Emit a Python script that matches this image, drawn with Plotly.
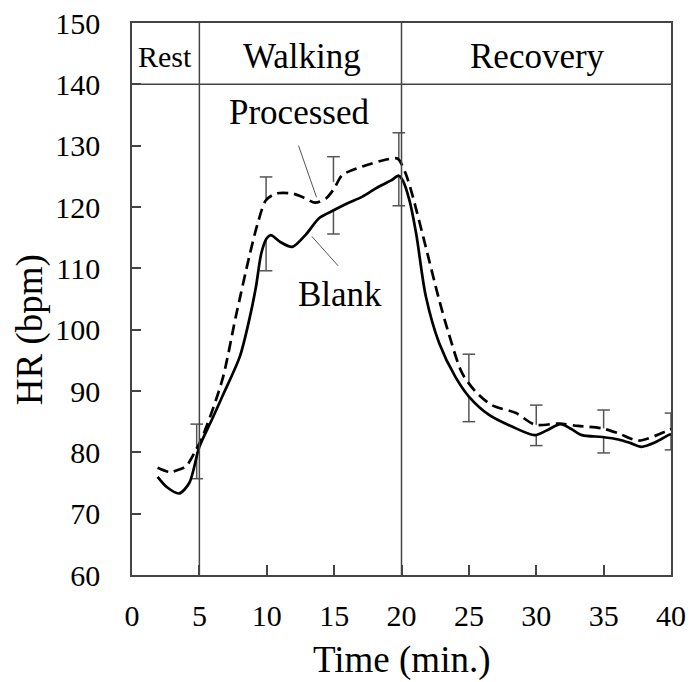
import plotly.graph_objects as go

# Heart-rate time courses (min, bpm)
blank_t = [1.9, 2.6, 3.5, 4.25, 5.0, 5.9, 6.7, 8.0, 8.7, 9.2, 9.6, 10.0, 10.3, 11.0, 11.9, 12.9,
           13.9, 15.0, 16.0, 17.1, 18.3, 19.2, 19.8, 20.1, 20.6, 21.1, 21.8, 22.8, 24.0, 25.0,
           26.5, 28.2, 29.9, 30.8, 31.8, 32.6, 33.4, 34.9, 36.1, 37.0, 37.8, 38.8, 39.8, 40.0]
blank_hr = [76.0, 74.3, 73.3, 75.0, 80.9, 85.2, 89.1, 95.6, 101.6, 107.0, 112.5, 114.9, 115.4, 114.3,
            113.5, 115.5, 118.2, 119.5, 120.6, 121.7, 123.3, 124.3, 125.1, 124.3, 121.0, 115.5,
            105.5, 97.8, 92.3, 89.1, 86.1, 84.2, 82.8, 83.6, 84.6, 83.8, 82.8, 82.5, 82.1, 81.5,
            80.9, 81.6, 82.8, 83.0]

processed_t = [1.9, 2.8, 3.5, 4.0, 4.6, 5.24, 6.7, 7.7, 8.7, 9.3, 9.94, 10.7, 11.9, 12.8, 13.6, 14.4,
               15.0, 15.6, 17.1, 18.8, 19.7, 20.3, 20.8, 21.8, 22.8, 23.5, 24.5, 25.5, 26.7, 28.5,
               29.9, 31.7, 33.1, 34.9, 36.1, 37.6, 39.8, 40.0]
processed_hr = [77.5, 76.8, 77.2, 77.7, 79.8, 82.6, 91.8, 102.1, 111.9, 117.1, 121.1, 122.2, 122.2,
                121.5, 120.7, 121.4, 123.0, 125.2, 126.6, 127.7, 127.9, 125.5, 122.0, 113.5, 104.8,
                99.4, 92.9, 89.9, 87.7, 86.4, 84.5, 84.7, 84.3, 83.9, 83.1, 81.9, 83.6, 83.8]

# Means and standard deviations at the sampling points
bar_t = [4.8, 9.95, 14.95, 19.8, 25, 30, 35, 40]
processed_mean = [80.5, 121.1, 124.1, 127.9, 91.0, 84.5, 83.9, 83.6]
processed_sd = [4.1, 3.8, 4.1, 4.2, 5.0, 3.2, 3.0, 2.8]
blank_mean = [80.0, 114.9, 119.3, 125.1, 89.1, 82.8, 82.5, 82.8]
blank_sd = [4.3, 5.3, 3.7, 4.9, 4.1, 1.7, 2.6, 2.4]

# Protocol phases
phase_names = ["Rest", "Walking", "Recovery"]
phase_bounds = [0, 5, 20, 40]
phase_label_x = [2.45, 12.6, 30.1]

x_ticks = [0, 5, 10, 15, 20, 25, 30, 35, 40]
y_ticks = [60, 70, 80, 90, 100, 110, 120, 130, 140, 150]

FONT = "Liberation Serif"
AXIS_COL = "#444444"
BAR_COL = "#555555"

fig = go.Figure()

# Error bars: processed upward, blank downward
fig.add_trace(go.Scatter(
    x=bar_t, y=processed_mean, mode="markers", marker=dict(size=1, opacity=0),
    error_y=dict(type="data", symmetric=False, array=processed_sd,
                 arrayminus=[0] * len(bar_t), width=0, thickness=1.5, color=BAR_COL),
    showlegend=False, hoverinfo="skip"))
fig.add_trace(go.Scatter(
    x=bar_t, y=blank_mean, mode="markers", marker=dict(size=1, opacity=0),
    error_y=dict(type="data", symmetric=False, array=[0] * len(bar_t),
                 arrayminus=blank_sd, width=0, thickness=1.5, color=BAR_COL),
    showlegend=False, hoverinfo="skip"))
fig.add_trace(go.Scatter(
    x=bar_t + bar_t,
    y=[m + s for m, s in zip(processed_mean, processed_sd)] +
      [m - s for m, s in zip(blank_mean, blank_sd)],
    mode="markers",
    marker=dict(symbol="line-ew", size=9, line=dict(width=1.5, color=BAR_COL)),
    showlegend=False, hoverinfo="skip"))

fig.add_trace(go.Scatter(
    x=processed_t, y=processed_hr, mode="lines", name="Processed",
    line=dict(color="black", width=2.7, dash="11px,6px", shape="spline", smoothing=0.8),
    showlegend=False))
fig.add_trace(go.Scatter(
    x=blank_t, y=blank_hr, mode="lines", name="Blank",
    line=dict(color="black", width=2.7, shape="spline", smoothing=0.8),
    showlegend=False))

shapes = []
# phase dividers and the header band
for xb in phase_bounds[1:-1]:
    shapes.append(dict(type="line", xref="x", yref="y", x0=xb, x1=xb, y0=60, y1=150,
                       line=dict(color=AXIS_COL, width=1.5)))
shapes.append(dict(type="line", xref="x", yref="y", x0=0, x1=40, y0=140, y1=140,
                   line=dict(color=AXIS_COL, width=1.5)))
# leader lines for the curve labels
processed_leader = ([12.36, 13.69], [130.0, 121.6])
blank_leader = ([13.35, 15.3], [115.2, 110.4])
for (lx, ly) in (processed_leader, blank_leader):
    shapes.append(dict(type="line", xref="x", yref="y", x0=lx[0], x1=lx[1], y0=ly[0], y1=ly[1],
                       line=dict(color="#555555", width=1)))

annotations = []
for name, px in zip(phase_names, phase_label_x):
    annotations.append(dict(x=px, y=144.5, xref="x", yref="y", text=name, showarrow=False,
                            font=dict(family=FONT, size=30 if name == "Rest" else 35, color="black"),
                            xanchor="center", yanchor="middle"))
annotations.append(dict(x=12.4, y=135.4, xref="x", yref="y", text="Processed", showarrow=False,
                        font=dict(family=FONT, size=35, color="black")))
annotations.append(dict(x=15.4, y=105.7, xref="x", yref="y", text="Blank", showarrow=False,
                        font=dict(family=FONT, size=35, color="black")))
annotations.append(dict(x=0.5, y=-0.154, xref="paper", yref="paper", text="Time (min.)",
                        showarrow=False, font=dict(family=FONT, size=37, color="black"),
                        xanchor="center", yanchor="middle"))
annotations.append(dict(x=-0.19, y=100, xref="paper", yref="y", text="HR (bpm)",
                        showarrow=False, textangle=-90,
                        font=dict(family=FONT, size=37, color="black"),
                        xanchor="center", yanchor="middle"))

fig.update_layout(
    width=693, height=682,
    margin=dict(l=132, r=22, t=23, b=107, autoexpand=False),
    paper_bgcolor="white", plot_bgcolor="white",
    shapes=shapes, annotations=annotations,
    showlegend=False,
    xaxis=dict(range=[0, 40], tickvals=x_ticks, ticks="inside", ticklen=10, tickwidth=1.5,
               tickcolor=AXIS_COL, showline=True, linecolor=AXIS_COL, linewidth=1.5, mirror=True,
               showgrid=False, zeroline=False, ticklabelstandoff=13, automargin=False,
               tickfont=dict(family=FONT, size=30, color="black")),
    yaxis=dict(range=[60, 150], tickvals=y_ticks, ticks="inside", ticklen=9, tickwidth=1.5,
               tickcolor=AXIS_COL, showline=True, linecolor=AXIS_COL, linewidth=1.5, mirror=True,
               showgrid=False, zeroline=False, ticklabelstandoff=24, automargin=False,
               tickfont=dict(family=FONT, size=30, color="black")),
)

fig.write_html("out.html")
